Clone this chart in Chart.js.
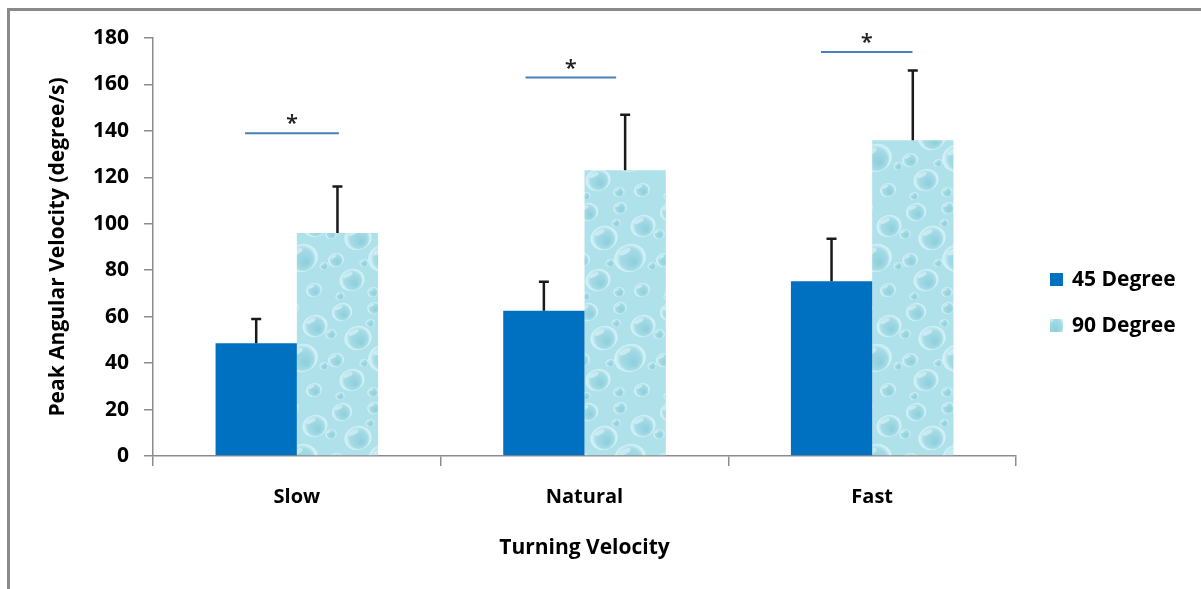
<!DOCTYPE html>
<html>
<head>
<meta charset="utf-8">
<script src="https://cdn.jsdelivr.net/npm/chart.js@4.4.1/dist/chart.umd.min.js"></script>
<style>
    body { margin: 0; background: #fff; }
    #wrap { position: relative; width: 1201px; height: 589px; }
    #frame {
        position: absolute; left: 7px; top: 8px; right: 0; bottom: 0;
        border-top: 3px solid #8a8a8a; border-left: 3px solid #8a8a8a;
    }
    canvas { position: absolute; left: 0; top: 0; }
</style>
</head>
<body>
<div id="wrap">
    <div id="frame"></div>
    <canvas id="myChart" width="1201" height="589"></canvas>
</div>
<script>
const categories = ['Slow', 'Natural', 'Fast'];
const deg45 = [48.5, 62.6, 75.2];
const deg45Err = [10.5, 12.4, 18.4];
const deg90 = [96, 123, 136];
const deg90Err = [20, 24, 30];
const sigLevels = [139, 163, 174];
const sigMarks = ['*', '*', '*'];

const FONT = '"Open Sans", Lato, sans-serif';

// water drop texture for the 90 degree bars
function makeDropPattern() {
    const W = 82, H = 100;
    const c = document.createElement('canvas');
    c.width = W;
    c.height = H;
    const g = c.getContext('2d');
    g.fillStyle = '#aee1ea';
    g.fillRect(0, 0, W, H);

    const drops = [
        [14, 12, 9], [46, 8, 6], [69, 26, 11], [30, 38, 12], [8, 60, 7],
        [56, 58, 14], [24, 80, 11], [68, 90, 7], [45, 92, 5], [42, 23, 4],
        [3, 34, 5], [78, 66, 4], [36, 63, 4], [12, 96, 4]
    ];
    for (const [dx, dy, r] of drops) {
        for (const ox of [-W, 0, W]) {
            for (const oy of [-H, 0, H]) {
                const x = dx + ox, y = dy + oy;
                const rg = g.createRadialGradient(x + r * 0.3, y + r * 0.35, r * 0.1, x, y, r);
                rg.addColorStop(0, '#90d0dd');
                rg.addColorStop(0.75, '#a6dce6');
                rg.addColorStop(1, 'rgba(215,243,248,0.85)');
                g.fillStyle = rg;
                g.beginPath();
                g.ellipse(x, y, r * 1.15, r, -0.3, 0, Math.PI * 2);
                g.fill();
                g.fillStyle = 'rgba(255,255,255,0.4)';
                g.beginPath();
                g.ellipse(x - r * 0.35, y - r * 0.45, r * 0.45, r * 0.18, -0.5, 0, Math.PI * 2);
                g.fill();
            }
        }
    }
    return g.createPattern(c, 'repeat');
}

const dropPattern = makeDropPattern();

const errorBars = {
    id: 'errorBars',
    afterDatasetsDraw(chart) {
        const ctx = chart.ctx;
        const yScale = chart.scales.y;
        const errs = [deg45Err, deg90Err];
        ctx.save();
        ctx.strokeStyle = '#1a1a1a';
        ctx.lineWidth = 2.5;
        chart.data.datasets.forEach((ds, di) => {
            const meta = chart.getDatasetMeta(di);
            meta.data.forEach((bar, i) => {
                const top = yScale.getPixelForValue(ds.data[i] + errs[di][i]);
                ctx.beginPath();
                ctx.moveTo(bar.x, bar.y);
                ctx.lineTo(bar.x, top);
                ctx.moveTo(bar.x - 5, top);
                ctx.lineTo(bar.x + 5, top);
                ctx.stroke();
            });
        });
        ctx.restore();
    }
};

const significance = {
    id: 'significance',
    afterDraw(chart, args, opts) {
        const ctx = chart.ctx;
        const xs = chart.scales.x;
        const ys = chart.scales.y;
        const catW = xs.getPixelForValue(1) - xs.getPixelForValue(0);
        ctx.save();
        sigLevels.forEach((lvl, i) => {
            const cx = xs.getPixelForValue(i);
            const x1 = cx + opts.spans[i][0] * catW;
            const x2 = cx + opts.spans[i][1] * catW;
            const y = ys.getPixelForValue(lvl);
            ctx.strokeStyle = '#4a7ebb';
            ctx.lineWidth = 2;
            ctx.beginPath();
            ctx.moveTo(x1, y);
            ctx.lineTo(x2, y);
            ctx.stroke();
            ctx.fillStyle = '#222';
            ctx.font = '600 22px ' + FONT;
            ctx.textAlign = 'center';
            ctx.textBaseline = 'middle';
            ctx.fillText(sigMarks[i], (x1 + x2) / 2, y - 9);
        });
        ctx.restore();
    }
};

const sideLegend = {
    id: 'sideLegend',
    afterDraw(chart) {
        const ctx = chart.ctx;
        const left = chart.chartArea.right + 34;
        ctx.save();
        ctx.font = 'bold 21px ' + FONT;
        ctx.textBaseline = 'middle';
        ctx.textAlign = 'left';
        chart.data.datasets.forEach((ds, i) => {
            const y = 280 + i * 46;
            ctx.fillStyle = ds.backgroundColor;
            ctx.fillRect(left, y - 7, 13, 13);
            ctx.fillStyle = '#000';
            ctx.fillText(ds.label, left + 22, y);
        });
        ctx.restore();
    }
};

new Chart(document.getElementById('myChart'), {
    type: 'bar',
    data: {
        labels: categories,
        datasets: [
            {label: '45 Degree', data: deg45, backgroundColor: '#0070c0'},
            {label: '90 Degree', data: deg90, backgroundColor: dropPattern}
        ]
    },
    options: {
        responsive: false,
        animation: false,
        events: [],
        layout: {padding: {top: 38, right: 185, left: 0, bottom: 0}},
        datasets: {bar: {categoryPercentage: 0.565, barPercentage: 1}},
        plugins: {
            legend: {display: false},
            tooltip: {enabled: false},
            significance: {spans: [[-0.18, 0.146], [-0.205, 0.11], [-0.178, 0.14]]}
        },
        scales: {
            x: {
                afterFit: (scale) => { scale.height = 133; },
                grid: {drawOnChartArea: false, tickLength: 10, color: '#8c8c8c', lineWidth: 1.5},
                border: {color: '#8c8c8c', width: 1.5},
                ticks: {color: '#000', padding: 19, font: {family: FONT, size: 20, weight: 'bold'}},
                title: {
                    display: true, text: 'Turning Velocity', color: '#000',
                    font: {family: FONT, size: 21, weight: 'bold'},
                    padding: {top: 0, bottom: 28}
                }
            },
            y: {
                min: 0,
                max: 180,
                afterFit: (scale) => { scale.width = 153; },
                grid: {drawOnChartArea: false, tickLength: 9, color: '#8c8c8c', lineWidth: 1.5},
                border: {color: '#8c8c8c', width: 1.5},
                ticks: {stepSize: 20, color: '#000', padding: 15, font: {family: FONT, size: 21, weight: 'bold'}},
                title: {
                    display: true, text: 'Peak Angular Velocity (degree/s)', color: '#000',
                    font: {family: FONT, size: 21, weight: 'bold'},
                    padding: {top: 45, bottom: 0}
                }
            }
        }
    },
    plugins: [errorBars, significance, sideLegend]
});
</script>
</body>
</html>
